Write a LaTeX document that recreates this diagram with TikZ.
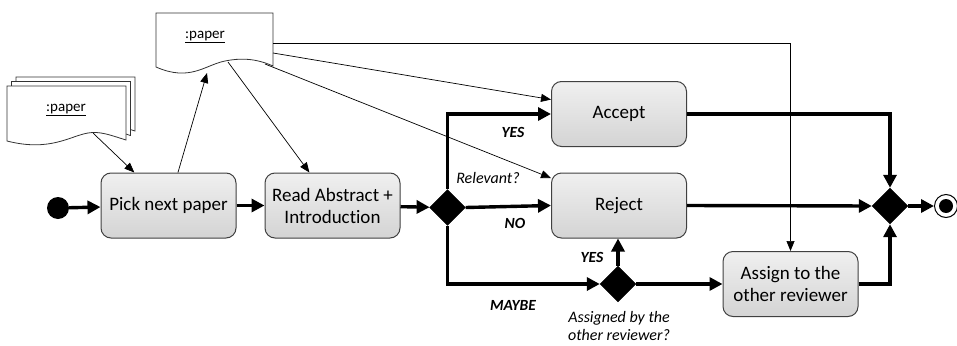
\documentclass[tikz,border=0pt]{standalone}
\usepackage{fontspec}
\setmainfont{Carlito}[Ligatures={NoCommon,NoRequired,NoContextual}]
\usetikzlibrary{arrows.meta,shapes.geometric,calc}

\tikzset{
  actbox/.style={draw=black!75, line width=1pt, rounded corners=10pt,
    top color=black!6, bottom color=black!17,
    minimum width=135pt, minimum height=65pt, align=center,
    font=\fontsize{19}{22}\selectfont, inner sep=2pt},
  choice/.style={diamond, fill=black, draw=black, inner sep=0pt, aspect=1,
    minimum width=36pt, minimum height=36pt},
  flow/.style={line width=3.4pt, -{Triangle[length=13pt,width=13pt]}},
  objflow/.style={line width=0.7pt, -{Triangle[length=10pt,width=8pt]}},
  guard/.style={font=\fontsize{15.5}{18}\bfseries\itshape\selectfont},
  note/.style={font=\fontsize{16}{19}\itshape\selectfont, align=center},
  docshape/.style={draw=black!80, line width=0.8pt, fill=white},
  doclabel/.style={font=\fontsize{15}{18}\selectfont}
}

\begin{document}
\begin{tikzpicture}[x=1pt,y=-1pt]
\useasboundingbox (0,0) rectangle (957,345);

% stacked paper objects (input pile)
\foreach \d in {9,4.5,0}{
  \draw[docshape, shift={(\d,-\d)}]
    (7,86) -- (126,86) -- (126,140)
    .. controls (110,135) and (100,131) .. (88,133)
    .. controls (70,136) and (50,152) .. (7,141) -- cycle;
}
\node[doclabel] (pile) at (66,110) {\underline{:paper}};
\coordinate (pileout) at (93,133);

% single paper object
\draw[docshape]
  (156,13) -- (273,13) -- (273,66)
  .. controls (255,58) and (240,58) .. (225,61)
  .. controls (205,65) and (190,82) .. (156,67) -- cycle;
\node[doclabel] (paper) at (205,37) {\underline{:paper}};
\coordinate (paperin)  at (207,73);
\coordinate (paperrd)  at (228,62);
\coordinate (paperacc) at (273,53);
\coordinate (paperrej) at (265,64);
\coordinate (paperasg) at (273,43);

% activities
\node[fill=black, circle, minimum size=22pt, inner sep=0pt] (start) at (58,208) {};
\node[actbox] (pick)   at (168.5,205.5) {Pick next paper};
\node[actbox] (read)   at (332.5,205.5) {Read Abstract +\\Introduction};
\node[choice] (rel)    at (447.5,207.5) {};
\node[actbox] (accept) at (619,114) {Accept};
\node[actbox] (reject) at (619,205.5) {Reject};
\node[choice] (other)  at (618,284) {};
\node[actbox] (assign) at (790.5,284) {Assign to the\\other reviewer};
\node[choice] (merge)  at (890,206) {};
\node[circle, draw=black, line width=1pt, minimum size=23pt, inner sep=0pt] (final) at (946,206) {};
\node[circle, fill=black, minimum size=14pt, inner sep=0pt] at (final) {};

% control flow
\draw[flow] (start) -- (pick);
\draw[flow] (pick) -- (read);
\draw[flow] (read) -- (rel);
\draw[flow] (rel.north) |- (accept.west);
\draw[flow] (rel.east) -- (reject.west);
\draw[flow] (rel.south) |- (other.west);
\draw[flow] (other.north) -- (other.north |- reject.south);
\draw[flow] (other.east) -- (assign.west);
\draw[flow] (accept.east) -| (merge.north);
\draw[flow] (reject.east) -- (merge.west);
\draw[flow] (assign.east) -| (merge.south);
\draw[flow] (merge.east) -- (final.west);

% guards and decision notes
\node[guard] (gyes)   at (513,132) {YES};
\node[guard] (gno)    at (515,223) {NO};
\node[guard] (gmaybe) at (513,305) {MAYBE};
\node[guard] (gyes2)  at (592,257) {YES};
\node[note]  (qrel)   at (488,178) {Relevant?};
\node[note, font=\fontsize{16}{17.5}\itshape\selectfont] (qother) at (619,326) {Assigned by the\\other reviewer?};

% object flow
\draw[objflow] (pileout) -- (pick.136);
\draw[objflow] (pick.74) -- (paperin);
\draw[objflow] (paperrd) -- (read.125);
\draw[objflow] (paperacc) -- (accept.168);
\draw[objflow] (paperrej) -- (reject.158);
\draw[objflow] (paperasg) -| (assign.north);
\end{tikzpicture}
\end{document}
